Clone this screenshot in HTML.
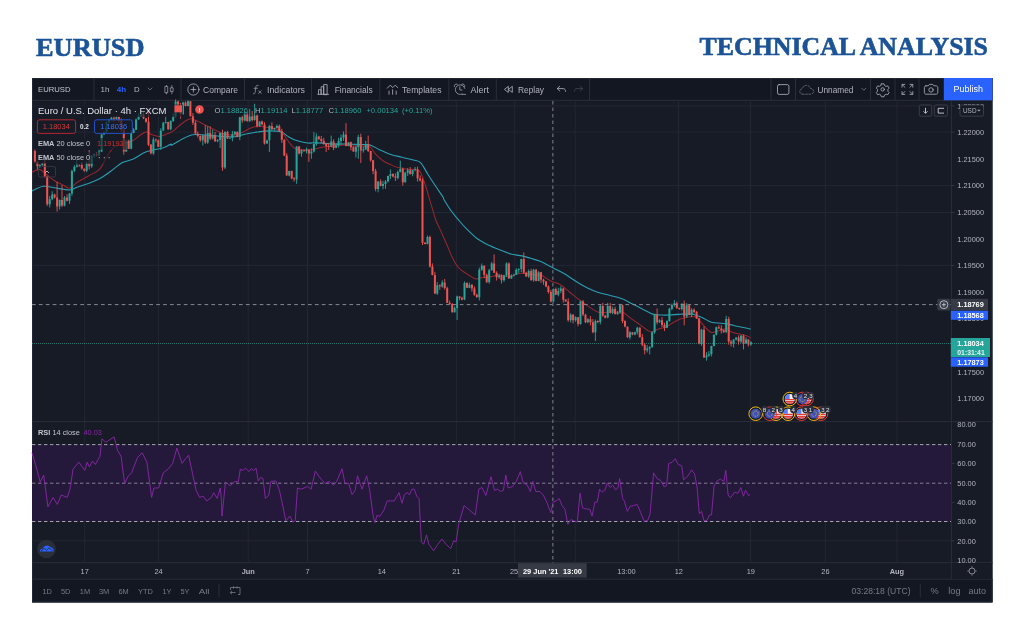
<!DOCTYPE html>
<html lang="en"><head><meta charset="utf-8"><title>EURUSD Technical Analysis</title>
<style>
html,body{margin:0;padding:0;background:#fff;}
body{width:1024px;height:640px;overflow:hidden;position:relative;}
svg{position:absolute;left:0;top:0;display:block}
text{font-family:"Liberation Sans",sans-serif;}
.ttl{font-family:"Liberation Serif",serif;font-weight:bold;font-size:26px;fill:#1b5396;stroke:#1b5396;stroke-width:.6px}
.tb{font-size:8.8px;fill:#b2b5be}
.ax{font-size:7.4px;fill:#b2b5be}
.lg{font-size:7.4px;fill:#c3c5cc}
.bt{font-size:7.4px;fill:#787b86}
</style></head><body>
<svg width="1024" height="640" viewBox="0 0 1024 640">
<!-- titles -->
<text class="ttl" x="36" y="55.5" textLength="108.5" lengthAdjust="spacingAndGlyphs">EURUSD</text>
<text class="ttl" x="699.5" y="55.2" textLength="288.5" lengthAdjust="spacingAndGlyphs">TECHNICAL ANALYSIS</text>

<!-- chart frame -->
<rect x="32" y="78" width="960.5" height="524.4" fill="#171b26"/>
<rect x="32" y="78" width="960.5" height="22" fill="#131722"/>
<rect x="32" y="579" width="960.5" height="23.4" fill="#131722"/>

<rect x="32.5" y="78.5" width="959.5" height="523.4" fill="none" stroke="#232838" stroke-width="1"/>
<!-- grid -->
<g stroke="#232734" stroke-width="1" fill="none">
<path d="M32 105.9H951M32 132.1H951M32 185.6H951M32 212.5H951M32 265.4H951M32 463.6H951M32 502.4H951M32 540.8H951"/>
<path d="M84.7 101V562M158.6 101V562M248.2 101V562M307.5 101V562M456.3 101V562M514.8 101V562M575.2 101V562M678.5 101V562M750.5 101V562M825.4 101V562M896.9 101V562"/>
</g>
<!-- borders -->
<g stroke="#2a2e39" stroke-width="1" fill="none">
<path d="M32 100.3H992.5M32 421.6H992.5M32 562.7H992.5M32 579.2H992.5M951.4 101V579"/>
<path d="M94 78V100M181 78V100M244.5 78V100M311.5 78V100M379.8 78V100M448.8 78V100M496.3 78V100M589.5 78V100M771 78V100M795.5 78V100M870.5 78V100M895 78V100M919 78V100"/>
<path d="M219 584V597M920.3 584V597"/>
</g>

<!-- RSI band -->
<rect x="32" y="444.6" width="919" height="76.9" fill="#24193b"/>
<g stroke="#b2b5be" stroke-width="0.9" stroke-dasharray="3.4 2.6" fill="none">
<path d="M32 444.6H951M32 521.5H951"/>
<path d="M32 483.2H951" stroke="#8f8a9f"/>
</g>
<polyline points="32,452.8 35.5,464.5 40.2,482.1 43.7,475.1 47.9,506.8 53.1,497.4 57.3,504.4 61.3,495 67.2,497.4 70,489.2 73,469.2 78.9,462.2 84.8,470.4 87.1,462.2 89.4,466.9 92.5,461 95.3,464.5 100,456.3 101.9,438.8 105.9,442.3 114.1,436.9 117.6,450.5 121.1,456.3 124.6,483.3 128.1,476.3 131.6,472.8 137.5,457.5 142.2,452.8 146.9,462.2 151.6,497.4 153.9,488 158.6,488 163.3,472.8 168,469.2 172.7,463.4 176.9,448.1 182.1,463.4 185.6,458.7 188.6,455.2 192.6,473.9 196.1,490.3 199.6,497.4 203.2,496.2 206.7,500.9 211.4,497.4 213.7,492.7 217.2,498.5 220.3,488 221.4,499.7 222,516.1 225.5,482.1 230.2,485.7 234.9,481.4 238.4,481.4 240.3,469.2 243.1,470.4 245.4,468.1 249,471.6 251.3,468.8 253.7,470.4 256,468.1 258.3,481 260.7,477.4 263,478.6 265.4,498.5 268.9,495 270.8,481.4 275.9,481 279.4,490.3 283,506.8 285.8,520.8 290,516.1 292.8,522 295.2,520.8 297.5,488 300.5,489.2 304.1,488 307.6,486.4 311.1,489.2 315.3,471.1 318.1,475.1 321.6,479.8 325.2,483.3 329.4,481.4 333.4,485.2 336.9,481 342,468.8 345.1,483.8 348.6,483.3 352.1,494.6 355.2,490.3 357.5,475.8 362,489.2 366.7,475.8 369.7,490.3 373.2,516.1 374.9,522.7 377.2,515 379.6,516.6 383.8,510.3 387.3,500.9 390.8,500.9 394.3,500.9 399,492.7 402.1,503.2 404.4,494.6 407.2,492.7 409.6,494.6 411.4,490.3 412,489.2 414.3,489.2 416.7,496.2 419,498.5 421.4,541.9 423.7,544.3 426.5,534.9 428.9,544.3 433.6,550.8 437.8,544.3 442,539.1 446,544.3 450.7,548.5 453.7,540.8 456.1,541.9 458.9,523.2 464.1,505.6 468.3,509.1 475.3,515 478.8,489.2 481.9,487.5 485.9,495.5 491,476.7 494.5,490.3 497.6,489.2 500.6,491.5 503.4,490.3 505.8,475.1 508.1,488 512.8,486.4 516.3,481.4 520.3,471.6 523.4,483.3 526.9,484.5 530.4,491.5 532.8,481.4 535.8,491.5 539.8,491.5 543.3,495 546.8,502.1 550.8,512.6 553.1,502.1 556.2,500.9 559.2,498.5 562.1,505.6 564.9,509.1 567.9,524.3 571,519.6 573.8,520.8 577.3,522 580.1,493.2 582.5,507.9 586.7,509.1 589.7,509.1 592.1,516.1 594.9,502.1 597.2,502.1 599.6,489.2 601.4,491.5 602,492.2 604.8,490.3 607.2,483.3 610.2,487.5 612.6,485.2 615.6,489.9 617.9,488 619.6,478.6 622.6,498.5 624.3,500.9 627.3,511.4 630.1,506.3 633.7,505.6 637.2,504.4 640.7,512.6 644.2,521.3 647.7,520.4 650.1,513.8 651.7,495 653.6,472.8 657.1,478.6 660.6,480.5 664.1,486.8 666.5,485.7 668.8,463.4 672.3,462.2 675.2,458.7 678.2,464.5 681.7,465.7 683.6,479.8 687.6,476.3 691.6,469.9 694.6,473.9 697,486.8 699.3,513.8 701.6,511.4 704,520.8 707,520.4 709.4,515 711.5,515 714.1,485.7 716.9,481 720.4,479.1 723.9,481.4 725.8,470.4 728.1,495 730.5,497.8 734.5,492.2 738,493.2 740.8,487.5 743.4,496.2 745.5,490.3 748.5,495.5 750.2,494.6" fill="none" stroke="#8a27a8" stroke-width="0.9" stroke-linejoin="round"/>

<!-- price lines -->
<path d="M32 343.5H951" stroke="#26a69a" stroke-width="0.8" stroke-dasharray="1 1" opacity=".75" fill="none"/>

<!-- EMA + candles -->
<path d="M32 191C33.8 190.2 39.7 186.8 43.3 186.3C46.9 185.8 50.3 187.2 54.5 187.8C58.7 188.4 65.9 190.1 69.5 190C73.1 189.9 74 188.3 77 187.2C80 186.2 84.7 184.8 88.3 183.5C91.9 182.1 95.9 180.7 99.5 178.8C103.1 176.8 107.2 173.8 110.8 171.3C114.4 168.7 118.4 164.8 122 162.8C125.6 160.9 129.7 160.7 133.3 159.1C136.9 157.4 141.5 153.9 144.5 152.5C147.5 151.1 149 151 152 150.3C155 149.5 160.3 148.8 163.3 147.8C166.3 146.8 169.4 144.5 170.8 144.1C172.2 143.6 170 145.9 172 145C174 144.1 180 140.1 183.3 138.5C186.6 136.8 189.6 135.3 192.6 134.7C195.6 134.1 198.7 134.6 202 134.7C205.3 134.9 209.7 135.3 213.3 135.6C216.9 135.9 220.9 136.4 224.5 136.6C228.1 136.7 232.2 137 235.8 136.6C239.4 136.1 243.4 134.5 247 133.8C250.6 133 254.7 132.3 258.3 131.9C261.9 131.4 265.9 130.9 269.5 130.9C273.1 130.9 277.8 131 280.8 131.9C283.8 132.8 285.9 135.2 288.3 136.6C290.7 137.9 293.4 139.4 295.8 140.3C298.2 141.2 300.9 141.8 303.3 142.2C305.7 142.7 309.4 143.1 310.8 143.1C312.2 143.2 310 142.8 312 142.8C314 142.8 319.7 142.9 323.3 143.1C326.9 143.4 330.3 143.9 334.5 144.1C338.7 144.2 345.3 144 349.5 144.1C353.7 144.1 357.5 144.3 360.8 144.5C364.1 144.6 367.1 144.2 370.1 145C373.1 145.9 376.2 148.2 379.5 149.7C382.8 151.2 387.2 153.2 390.8 154.4C394.4 155.6 398.4 156.3 402 157.2C405.6 158.1 410.3 159.1 413.3 160C416.3 160.9 418.4 160.4 420.8 162.8C423.2 165.2 425.3 170.4 428.3 175C431.3 179.7 437.1 188.3 439.5 191.9C442 195.5 442.6 196.2 443.3 197.5C444 198.8 443 198 444.2 200C445.4 202 448.5 207.2 450.8 210.3C453 213.5 455.9 216.8 458.3 219.7C460.7 222.5 462.8 225.1 465.8 228.1C468.8 231.1 473.4 235.8 477 238.5C480.6 241.2 484.7 243.2 488.3 245C491.9 246.8 495.9 248.3 499.5 249.7C503.1 251.1 507.2 253 510.8 254C514.4 255 518.4 255.1 522 255.9C525.6 256.7 530.3 258.2 533.3 259.1C536.3 260 539.4 261 540.8 261.5C542.2 262 540 261.1 542 262.1C544 263.2 549.7 266.3 553.3 268.1C556.9 270 560.9 271.7 564.5 273.8C568.1 275.9 572.2 279 575.8 281.3C579.4 283.5 583.4 286 587 287.8C590.6 289.6 594.7 291.3 598.3 292.5C601.9 293.7 605.6 294.3 609.5 295.3C613.4 296.4 619.1 297.7 622.7 299.1C626.3 300.4 628.7 302.1 632 303.8C635.3 305.4 640 307.8 643.3 309.4C646.6 311.1 649.7 313.2 652.7 314.1C655.7 315 659.3 314.9 662 315C664.7 315.2 666.5 315.2 669.5 315C672.6 314.9 677.2 314.2 680.8 314.1C684.4 313.9 689.9 314 692.1 314.1C694.3 314.2 692.9 314.2 694.5 314.7C696.1 315.3 699.3 316.3 702 317.5C704.7 318.7 708.4 321.3 711.4 322.2C714.4 323.1 718.1 322.9 720.8 323.2C723.5 323.5 725.9 323.6 728.3 324.1C730.7 324.5 733.4 325.4 735.8 326C738.2 326.5 740.9 327 743.3 327.5C745.7 328 749.6 328.9 750.8 329.2" fill="none" stroke="#2b9fb3" stroke-width="1.1" stroke-linejoin="round"/>
<path d="M32 172.2C33.2 171.8 37.1 169 39.5 169.4C41.9 169.9 44.6 173.2 47 175C49.4 176.8 52.1 179.2 54.5 180.7C56.9 182.2 59.6 183.2 62 184.4C64.4 185.6 67.1 188.5 69.5 188.2C71.9 187.9 74 184.5 77 182.5C80 180.6 84.7 178.1 88.3 176C91.9 173.9 96.5 172.6 99.5 169.4C102.5 166.3 104.6 159.9 107 156.3C109.4 152.7 111.8 148.8 114.5 146.9C117.2 144.9 120.9 145.1 123.9 144.1C126.9 143 130.6 141.8 133.3 140.3C136 138.8 138.7 136.1 140.8 134.7C142.9 133.4 144.6 131.9 146.4 131.9C148.2 131.9 149.9 134 152 134.7C154.1 135.5 157.1 136.7 159.5 136.6C162 136.4 165.1 134.5 167.1 133.8C169 133 169.4 133.7 172 131.9C174.6 130.1 180.3 124.6 183.3 122.5C186.3 120.4 188.4 118.9 190.8 118.8C193.2 118.6 195.9 120.5 198.3 121.6C200.7 122.6 203.4 124.1 205.8 125.3C208.2 126.5 210.9 127.9 213.3 129.1C215.7 130.3 218.4 131.9 220.8 132.8C223.2 133.7 225.9 134.4 228.3 134.7C230.7 135 233.4 135.2 235.8 134.7C238.2 134.3 240.9 132.9 243.3 131.9C245.7 130.8 248.4 129 250.8 128.1C253.2 127.2 255.9 126.4 258.3 126.3C260.7 126.1 263.4 126.9 265.8 127.2C268.2 127.5 270.9 127.5 273.3 128.1C275.7 128.7 278.4 128.8 280.8 130.9C283.2 133.1 286.2 138.6 288.3 141.3C290.4 144 292.1 146.5 293.9 147.8C295.7 149.2 297.4 149.4 299.5 149.7C301.7 150 305.1 149.7 307.1 149.7C309 149.7 309.4 150.2 312 149.7C314.6 149.3 319.7 147.5 323.3 146.9C326.9 146.3 331.2 146.3 334.5 146C337.8 145.7 340.9 145 343.9 145C346.9 145 350 145.8 353.3 146C356.6 146.1 361.8 145.8 364.5 146C367.2 146.1 368.3 145.5 370.1 146.9C371.9 148.2 373.7 152.1 375.8 154.4C377.9 156.6 380.9 159.3 383.3 161C385.7 162.6 388.4 163.7 390.8 164.7C393.2 165.8 395.3 166.8 398.3 167.5C401.3 168.3 406.2 169 409.5 169.4C412.8 169.9 416.5 168.2 418.9 170.3C421.3 172.4 422.7 177.6 424.5 182.5C426.3 187.5 428.4 195.3 430.2 201.3C432 207.3 434.3 215.8 435.8 220C437.3 224.3 437.7 224.1 439.5 228.1C441.3 232.1 444.9 240.2 447 245C449.1 249.8 450.8 254.5 452.6 258.1C454.4 261.7 456.2 265.1 458.3 267.5C460.4 269.9 463.1 271.4 465.8 273.2C468.5 275 472.8 278 475.2 278.8C477.6 279.5 478.4 278.1 480.8 277.8C483.2 277.5 487.2 277.4 490.2 276.9C493.2 276.5 496.5 275 499.5 275C502.5 275 506.2 277.1 508.9 276.9C511.6 276.8 514.3 274.7 516.4 274.1C518.5 273.5 519.9 273.2 522 273.2C524.1 273.2 527.1 273.8 529.5 274.1C532 274.4 535.1 274.8 537.1 275C539 275.3 539.7 274.6 542 275.6C544.3 276.6 548.4 279.8 551.4 281.3C554.4 282.8 557.8 283.2 560.8 285C563.8 286.8 567.1 290.1 570.1 292.5C573.1 294.9 576.5 297.8 579.5 300C582.5 302.3 585.9 304.6 588.9 306.6C591.9 308.5 595.3 311.3 598.3 312.2C601.3 313.1 604.6 312.2 607.7 312.2C610.7 312.2 614.6 312.2 617 312.2C619.4 312.2 620.6 311.3 622.7 312.2C624.8 313.1 627.5 315.9 630.2 317.8C632.9 319.8 636.8 322.5 639.5 324.4C642.2 326.4 645.1 328.8 647 330C649 331.2 649.9 332.1 651.7 331.9C653.5 331.8 656 329.8 658.3 329.1C660.5 328.3 663.4 328.3 665.8 327.2C668.2 326.2 670.9 323.9 673.3 322.5C675.7 321.2 678.4 319.7 680.8 318.8C683.2 317.9 685.9 317.2 688.3 316.9C690.7 316.6 693.9 316.2 695.8 316.9C697.7 317.6 698.5 319.5 700.1 321.3C701.7 323 704 326 705.8 327.8C707.6 329.6 709.3 332.1 711.4 332.5C713.5 333 716.5 331.3 718.9 330.7C721.3 330.1 724.3 328.5 726.4 328.8C728.5 329 729.9 331.3 732 332.2C734.1 333 737.1 333.4 739.5 334C741.9 334.6 745.2 335.3 747 335.9C748.8 336.5 750.2 337.5 750.8 337.8" fill="none" stroke="#9a262d" stroke-width="1.050" stroke-linejoin="round"/>
<path d="M39.8 164.4V167.8M42.3 162.7V165.8M49.7 196V207.4M52.2 191.2V200.2M59.6 199.4V209.5M64.5 196V206.3M69.5 192.9V203.9M71.9 169.6V195.8M74.4 165.3V172.1M76.9 160V167.5M86.7 161.3V172.3M91.7 155.3V167.8M94.1 153.2V157.8M99.1 149.2V155.9M101.6 134.2V152.1M104 131.6V134.8M106.5 121.5V132.9M109 119.4V123.2M111.4 116.8V120.4M116.4 115.9V120.3M126.2 139.7V151.7M131.2 129.8V149.4M133.6 128.2V133.3M136.1 118.5V130M138.6 113.4V119.8M141.1 113.4V116.9M153.4 137.4V154.9M160.8 128.2V150M163.3 122V130.7M165.7 116.4V123.7M170.7 120.3V130.3M173.2 113.4V122M175.6 99.4V117.3M183 101.7V115M188 100.3V106.3M202.8 134.9V145.4M207.7 126.3V143.9M212.7 129.5V139.5M217.6 139.2V142.3M220.1 132.3V148M225 131.2V169.1M229.9 137.5V138.9M232.4 130.9V141.3M234.9 130.9V135.6M239.8 116.9V140.2M244.8 111.2V121.6M249.7 108.8V122.1M254.6 103.8V120.7M259.6 121.2V127M267 139.7V143.8M269.4 124.9V152M274.4 127.7V130.3M276.9 124.5V128.3M289.2 170.7V176.4M296.6 146.2V183.8M301.5 149.2V156.7M306.5 147.6V153.4M311.4 148.3V158.8M313.9 131.9V152.5M316.4 133.3V145.6M331.2 135.6V147.2M336.1 143.1V148.2M338.6 137.7V147.4M341 134.6V144.1M343.5 131.4V140.9M348.5 141.9V146.3M355.9 145.4V157.5M358.3 134.7V158.8M363.3 146.2V152.6M365.7 140.8V150.1M378.1 181.2V192.3M383 180.8V189.2M385.5 180V188.8M388 175.6V182.5M390.4 169.4V179.1M397.8 170.6V179.4M400.3 160.6V172.4M405.2 171.8V182.6M407.7 168.1V175.9M412.6 169.9V176.3M415.1 166.9V171.2M427.5 235.6V244.4M437.3 282.1V294.9M442.3 280.3V287.7M454.6 306.4V312.5M457.1 295.6V320M464.5 281.4V300.1M469.4 282.6V288.1M479.3 267.6V300.4M481.8 263.5V270.8M489.2 268.8V283.7M491.7 261.9V270.6M499.1 273.9V278.8M504 274.7V281.8M506.5 262.4V276.9M511.4 274.4V278.7M513.9 273.7V276.4M516.3 268.3V275M518.8 268.3V273M521.3 258.8V272.2M528.7 269.4V278M533.6 268.8V281.8M538.6 271.2V281.3M553.4 288.4V302.5M558.3 287.8V296.3M560.8 286.2V293.2M570.7 313.2V322.5M575.6 316.3V321.8M580.5 300.8V324.7M587.9 318.2V323.2M595.4 319.5V341M600.3 304.5V324.4M607.7 302.8V318.4M612.6 306.8V314.3M617.6 310.9V314.9M620 303.8V313.9M629.9 331.3V339.4M634.9 331.6V335.3M637.3 326.8V334.5M647.2 345.2V352.5M649.7 346.2V354.4M652.1 331.3V347.9M654.6 314.4V333.8M659.5 319.3V322.9M667 320.3V328.1M669.4 307.8V321.7M671.9 303.6V310.3M674.4 300V306.6M681.8 303.5V310.5M686.7 303.1V318M691.6 308.3V317.2M701.5 329V345.9M706.5 352.2V360.7M708.9 351.1V356.9M711.4 345.7V356.5M713.9 334.5V346.3M716.3 326.6V335.5M726.2 315.8V333.2M733.6 339.2V347.5M736.1 337.3V340.5M741 335V343M746 337.3V343.7M750.9 341.3V345.8" stroke="#26a69a" stroke-width="0.9" fill="none"/>
<path d="M38.8 165.1h2v1.1h-2zM41.3 163h2v2.1h-2zM48.7 199.2h2v5.1h-2zM51.2 194.4h2v4.8h-2zM58.6 200.1h2v6.2h-2zM63.5 197.5h2v8.2h-2zM68.5 193.6h2v7.2h-2zM70.9 171.1h2v22.5h-2zM73.4 166.8h2v4.2h-2zM75.9 165.4h2v1.4h-2zM85.7 163.5h2v7.3h-2zM90.7 155.6h2v10.7h-2zM93.1 154.2h2v1.4h-2zM98.1 151.4h2v4.2h-2zM100.6 134.5h2v16.9h-2zM103 131.9h2v2.6h-2zM105.5 122.5h2v9.4h-2zM108 119.7h2v2.8h-2zM110.4 117.8h2v1.9h-2zM115.4 116.9h2v1.9h-2zM125.2 140.7h2v10.7h-2zM130.2 133h2v15.6h-2zM132.6 129.7h2v3.3h-2zM135.1 119.5h2v10.3h-2zM137.6 116.6h2v2.8h-2zM140.1 114.4h2v2.2h-2zM152.4 139.6h2v13.8h-2zM159.8 130.4h2v16.4h-2zM162.3 122.7h2v7.7h-2zM164.7 122.1h2v0.7h-2zM169.7 121h2v8.3h-2zM172.2 116.6h2v4.4h-2zM174.6 101.6h2v15h-2zM182 102.4h2v11.6h-2zM187 101.3h2v4.7h-2zM201.8 135.2h2v5h-2zM206.7 133h2v9.4h-2zM211.7 135.2h2v3.3h-2zM216.6 139.9h2v1.4h-2zM219.1 133h2v6.9h-2zM224 131.9h2v35.7h-2zM228.9 137.8h2v0.8h-2zM231.4 134.1h2v3.9h-2zM233.9 131.9h2v2.2h-2zM238.8 117.2h2v19.8h-2zM243.8 114.4h2v6.1h-2zM248.7 116.6h2v4.5h-2zM253.6 115.5h2v4.5h-2zM258.6 121.5h2v4.5h-2zM266 140.4h2v3.2h-2zM268.4 125.9h2v14.4h-2zM273.4 128h2v1.3h-2zM275.9 126h2v2h-2zM288.2 171h2v4.4h-2zM295.6 146.5h2v32.9h-2zM300.5 150.2h2v3.2h-2zM305.5 149.8h2v1.5h-2zM310.4 151.5h2v2h-2zM312.9 144.1h2v7.4h-2zM315.4 136.5h2v7.6h-2zM330.2 141.5h2v5h-2zM335.1 145.2h2v2.6h-2zM337.6 140.9h2v4.4h-2zM340 137.8h2v3.1h-2zM342.5 134.6h2v3.1h-2zM347.5 142.2h2v3.8h-2zM354.9 146.9h2v4.8h-2zM357.3 136.9h2v10h-2zM362.3 149.4h2v1h-2zM364.7 144h2v5.4h-2zM377.1 181.5h2v7.6h-2zM382 184h2v2h-2zM384.5 181.5h2v2.5h-2zM387 175.9h2v5.6h-2zM389.4 174h2v1.9h-2zM396.8 172.1h2v5.8h-2zM399.3 169h2v3.1h-2zM404.2 172.8h2v9.5h-2zM406.7 170.2h2v2.5h-2zM411.6 170.2h2v3.9h-2zM414.1 169.4h2v0.8h-2zM426.5 237.1h2v6.9h-2zM436.3 285.3h2v8.1h-2zM441.3 282.5h2v4.1h-2zM453.6 307.9h2v4.3h-2zM456.1 296.6h2v11.3h-2zM463.5 282.9h2v16.5h-2zM468.4 284.8h2v3h-2zM478.3 269.8h2v27.4h-2zM480.8 265.7h2v4.1h-2zM488.2 270.3h2v11.8h-2zM490.7 263.4h2v6.9h-2zM498.1 275.4h2v1.9h-2zM503 275.4h2v4.9h-2zM505.5 263.4h2v12h-2zM510.4 275.4h2v3h-2zM512.9 274.7h2v0.8h-2zM515.3 269.8h2v4.9h-2zM517.8 269h2v0.8h-2zM520.3 259.1h2v9.9h-2zM527.7 270.9h2v5.6h-2zM532.6 269.8h2v10.5h-2zM537.6 272.2h2v8.8h-2zM552.4 289.1h2v12.4h-2zM557.3 291h2v3.8h-2zM559.8 288.4h2v2.6h-2zM569.7 314.7h2v5.6h-2zM574.6 317.3h2v3h-2zM579.5 301.5h2v22.5h-2zM586.9 319.2h2v3h-2zM594.4 321h2v11.3h-2zM599.3 306h2v16.1h-2zM606.7 306h2v11.6h-2zM611.6 309h2v3.8h-2zM616.6 312.4h2v1.5h-2zM619 305.3h2v7.1h-2zM628.9 332.3h2v4.9h-2zM633.9 332.3h2v2.1h-2zM636.3 327.8h2v4.5h-2zM646.2 348.4h2v1.9h-2zM648.7 346.9h2v1.5h-2zM651.1 332.3h2v14.6h-2zM653.6 314.7h2v17.6h-2zM658.5 320.3h2v1.9h-2zM666 321h2v6.8h-2zM668.4 308.8h2v12.2h-2zM670.9 305.1h2v3.8h-2zM673.4 303.2h2v1.9h-2zM680.8 303.8h2v5.3h-2zM685.7 305.3h2v11.3h-2zM690.6 309.8h2v5.3h-2zM700.5 329.7h2v14h-2zM705.5 355.4h2v2.1h-2zM707.9 354.3h2v1.1h-2zM710.4 346h2v8.3h-2zM712.9 334.8h2v11.3h-2zM715.3 327.3h2v7.5h-2zM725.2 319h2v13.1h-2zM732.6 339.5h2v3.9h-2zM735.1 337.6h2v1.9h-2zM740 335.7h2v5.8h-2zM745 339.5h2v3.9h-2zM749.9 342.3h2v2.1h-2z" fill="#26a69a"/>
<path d="M34.9 149.6V162.6M37.4 161.3V169.5M44.8 159.8V177.4M47.2 176.1V206M54.6 193.7V198.5M57.1 182V211.6M62 185V207.1M67 194.3V201.4M79.3 164.4V166.5M81.8 161.9V169.7M84.3 168.4V171.8M89.2 150V169.5M96.6 152V156.6M113.9 116.3V122M118.8 116.2V122.8M121.3 118.4V132.2M123.8 128.5V154.7M128.7 139.7V149M143.5 112.2V119.1M146 118.1V122.7M148.5 110V146.1M150.9 144.3V154.4M155.9 138.6V142.4M158.3 139.5V147.1M168.2 121.8V130M178.1 100.6V106.7M180.6 103V118.6M185.5 101.4V106.3M190.4 101V116.5M192.9 113V124.9M195.4 120.5V134.4M197.8 131.5V137.6M200.3 135.4V141.7M205.3 125.2V143.9M210.2 126.3V140M215.1 132V142M222.5 129.8V170.8M227.5 130.9V138.9M237.3 131.2V137.3M242.3 115.7V122.8M247.2 112.2V121.8M252.2 111V121.5M257.1 114.5V127.5M262 120.5V125.4M264.5 122.2V144.5M271.9 122.4V130M279.3 124.5V132M281.8 128.8V142.9M284.3 139.1V156.1M286.7 153.2V175.7M291.7 170.7V179.2M294.1 177V181.6M299.1 146.2V154.5M304 149.6V151.6M308.9 149.1V161.9M318.8 135.8V140.1M321.3 135.9V143.2M323.8 137.8V144.8M326.2 143.8V151.9M328.7 142.8V150M333.6 139.3V150.1M346 123.1V146.3M350.9 141.6V150.4M353.4 146.2V151.9M360.8 133.7V163M368.2 135.6V152M370.7 150.7V161.7M373.1 159.9V174.2M375.6 168.8V191.3M380.6 179.3V186.3M392.9 173.3V177.3M395.4 173.4V181.1M402.8 167.5V185.6M410.2 167.1V174.8M417.6 166.6V181.7M420.1 175.3V181.4M422.5 178.2V245M425 242.1V244.4M429.9 235.6V267.6M432.4 263.4V275.3M434.9 271.8V294.1M439.8 284.3V289.9M444.7 279V289.7M447.2 286.7V303.1M449.7 300.6V304.8M452.2 303.1V312.5M459.6 296.3V300.3M462 296.6V300.4M467 282.2V288.1M471.9 284.1V291.7M474.4 286.3V295.7M476.8 293.7V297.9M484.2 265.4V277.9M486.7 273.7V282.9M494.1 254.4V273.1M496.6 271.3V280.5M501.5 274.4V283.5M508.9 262.4V278.7M523.8 252.5V273.8M526.2 271.8V276.8M531.2 268.7V280.6M536.1 268.8V281.3M541 271.9V282.9M543.5 278.7V284.8M546 280.9V287.2M548.4 285.5V293.6M550.9 289.9V302.5M555.8 287.6V295.1M563.3 287.7V302.8M565.7 299.3V301.8M568.2 298.3V321.8M573.1 314V323.5M578.1 317V326.2M583 300V316.2M585.5 313.7V323.2M590.4 316V325.4M592.9 319V333.3M597.8 320.3V323.2M602.8 302.8V316.9M605.2 315.1V318.4M610.2 302.8V313.5M615.1 306.8V314.6M622.5 304.6V323.2M625 320.3V327.4M627.5 326.4V337.9M632.4 332V335.3M639.8 327.1V337.5M642.3 334V346.2M644.7 343.2V354.4M657.1 308.4V324.4M662 317.1V327.2M664.5 322.8V331M676.8 301.7V308.9M679.3 307.6V309.7M684.2 300.6V325.3M689.2 305V315.3M694.1 308.3V313.3M696.6 311.1V318.7M699.1 317.7V344.4M704 326.5V357.8M718.8 325.1V328.7M721.3 325.2V333.5M723.7 329.3V332.9M728.7 316.8V344.7M731.1 340V346.6M738.6 335.4V344.7M743.5 334.7V349.4M748.4 339.2V346.5" stroke="#ef5350" stroke-width="0.9" fill="none"/>
<path d="M33.9 151.1h2v10.5h-2zM36.4 161.6h2v4.6h-2zM43.8 163h2v13.4h-2zM46.2 176.4h2v27.8h-2zM53.6 194.4h2v3.1h-2zM56.1 197.5h2v8.9h-2zM61 200.1h2v5.5h-2zM66 197.5h2v3.2h-2zM78.3 165.4h2v0.8h-2zM80.8 165.1h2v3.5h-2zM83.3 168.7h2v2.1h-2zM88.2 163.5h2v2.8h-2zM95.6 154.2h2v1.4h-2zM112.9 117.8h2v0.9h-2zM117.8 116.9h2v3.8h-2zM120.3 120.6h2v9.4h-2zM122.8 130h2v21.4h-2zM127.7 140.7h2v8h-2zM142.5 114.4h2v3.9h-2zM145 118.4h2v3.3h-2zM147.5 121.7h2v23h-2zM149.9 144.6h2v8.7h-2zM154.9 139.6h2v0.7h-2zM157.3 140.2h2v6.6h-2zM167.2 122.1h2v7.2h-2zM177.1 101.6h2v3.6h-2zM179.6 105.2h2v8.7h-2zM184.5 102.4h2v3.6h-2zM189.4 101.3h2v14.9h-2zM191.9 116.2h2v6.6h-2zM194.4 122.7h2v10.9h-2zM196.8 133.7h2v2.4h-2zM199.3 136.1h2v4.2h-2zM204.3 135.2h2v7.2h-2zM209.2 133h2v5.5h-2zM214.1 135.2h2v6.1h-2zM221.5 133h2v34.6h-2zM226.5 131.9h2v6.7h-2zM236.3 131.9h2v5h-2zM241.3 117.2h2v3.4h-2zM246.2 114.4h2v6.7h-2zM251.2 116.6h2v3.4h-2zM256.1 115.5h2v10.5h-2zM261 121.5h2v2.8h-2zM263.5 124.4h2v19.1h-2zM270.9 125.9h2v3.4h-2zM278.3 126h2v5h-2zM280.8 131h2v8.8h-2zM283.3 139.8h2v15.6h-2zM285.7 155.4h2v20h-2zM290.7 171h2v7.5h-2zM293.1 178.5h2v0.9h-2zM298.1 146.5h2v7h-2zM303 150.2h2v1h-2zM307.9 149.8h2v3.8h-2zM317.8 136.5h2v2.6h-2zM320.3 139.1h2v1.9h-2zM322.8 141h2v3.1h-2zM325.2 144.1h2v1.9h-2zM327.7 146h2v0.8h-2zM332.6 141.5h2v6.4h-2zM345 134.6h2v11.4h-2zM349.9 142.2h2v5h-2zM352.4 147.2h2v4.4h-2zM359.8 136.9h2v13.5h-2zM367.2 144h2v7h-2zM369.7 151h2v9.2h-2zM372.1 160.2h2v10.8h-2zM374.6 171h2v18.1h-2zM379.6 181.5h2v4.5h-2zM391.9 174h2v2.6h-2zM394.4 176.6h2v1.2h-2zM401.8 169h2v13.2h-2zM409.2 170.2h2v3.9h-2zM416.6 169.8h2v8.8h-2zM419.1 178.5h2v1.9h-2zM421.5 180.4h2v62.4h-2zM424 242.8h2v1.3h-2zM428.9 237.1h2v29.4h-2zM431.4 266.6h2v8.4h-2zM433.9 275h2v18.4h-2zM438.8 285.3h2v1.3h-2zM443.7 282.5h2v5.6h-2zM446.2 288.2h2v14.6h-2zM448.7 302.8h2v1.3h-2zM451.2 304.1h2v8.1h-2zM458.6 296.6h2v1.5h-2zM461 298.1h2v1.3h-2zM466 282.9h2v4.9h-2zM470.9 284.8h2v3.8h-2zM473.4 288.5h2v6.2h-2zM475.8 294.7h2v2.4h-2zM483.2 265.7h2v9h-2zM485.7 274.7h2v7.5h-2zM493.1 263.4h2v9.4h-2zM495.6 272.8h2v4.5h-2zM500.5 275.4h2v4.9h-2zM507.9 263.4h2v15h-2zM522.8 259.1h2v13.7h-2zM525.2 272.8h2v3.8h-2zM530.2 270.9h2v9.4h-2zM535.1 269.8h2v11.3h-2zM540 272.2h2v7.5h-2zM542.5 279.7h2v1.9h-2zM545 281.6h2v4.9h-2zM547.4 286.5h2v5.6h-2zM549.9 292.1h2v9.4h-2zM554.8 289.1h2v5.6h-2zM562.3 288.4h2v11.3h-2zM564.7 299.6h2v1.9h-2zM567.2 301.5h2v18.8h-2zM572.1 314.7h2v5.6h-2zM577.1 317.3h2v6.8h-2zM582 301.5h2v13.1h-2zM584.5 314.7h2v7.5h-2zM589.4 319.2h2v3h-2zM591.9 322.2h2v10.1h-2zM596.8 321h2v1.1h-2zM601.8 306h2v9.4h-2zM604.2 315.4h2v2.3h-2zM609.2 306h2v6.8h-2zM614.1 309h2v4.9h-2zM621.5 305.3h2v15.8h-2zM624 321h2v5.6h-2zM626.5 326.7h2v10.5h-2zM631.4 332.3h2v2.1h-2zM638.8 327.8h2v9.4h-2zM641.3 337.2h2v7.5h-2zM643.7 344.7h2v5.6h-2zM656.1 314.7h2v7.5h-2zM661 320.3h2v4.7h-2zM663.5 325h2v2.8h-2zM675.8 303.2h2v4.7h-2zM678.3 307.9h2v1.1h-2zM683.2 303.8h2v12.8h-2zM688.2 305.3h2v9.8h-2zM693.1 309.8h2v2.1h-2zM695.6 311.8h2v6.6h-2zM698.1 318.4h2v25.3h-2zM703 329.7h2v27.8h-2zM717.8 327.3h2v1.1h-2zM720.3 328.4h2v1.9h-2zM722.7 330.3h2v1.9h-2zM727.7 319h2v22.5h-2zM730.1 341.5h2v1.9h-2zM737.6 337.6h2v3.9h-2zM742.5 335.7h2v7.7h-2zM747.4 339.5h2v4.9h-2z" fill="#ef5350"/>

<!-- crosshair -->
<g fill="none">
<path d="M32 304.6H951" stroke="#868993" stroke-width="1" stroke-dasharray="3.7 3.2"/>
<path d="M552.8 101V563" stroke="#62656f" stroke-width="1.4" stroke-dasharray="3.4 3.1"/>
</g>

<!-- toolbar text -->
<g class="tb">
<text x="38" y="92.2" fill="#c5c8d0" font-size="7.800" textLength="32.5" lengthAdjust="spacingAndGlyphs">EURUSD</text>
<text x="100.5" y="92.3" font-size="8">1h</text>
<text x="116.800" y="92.3" font-size="8" fill="#2962ff" font-weight="bold">4h</text>
<text x="134" y="92.3" font-size="7.800">D</text>
<text x="203" y="92.7" textLength="35" lengthAdjust="spacingAndGlyphs">Compare</text>
<text x="267" y="92.7" textLength="38" lengthAdjust="spacingAndGlyphs">Indicators</text>
<text x="334.7" y="92.7" textLength="38" lengthAdjust="spacingAndGlyphs">Financials</text>
<text x="402" y="92.7" textLength="39.5" lengthAdjust="spacingAndGlyphs">Templates</text>
<text x="470.5" y="92.7" textLength="18.5" lengthAdjust="spacingAndGlyphs">Alert</text>
<text x="518" y="92.7" textLength="26" lengthAdjust="spacingAndGlyphs">Replay</text>
<text x="817.5" y="92.7" textLength="36" lengthAdjust="spacingAndGlyphs">Unnamed</text>
</g>
<!-- toolbar icons -->
<g stroke="#b2b5be" stroke-width="0.8" fill="none" stroke-linecap="round" stroke-linejoin="round">
<path d="M148 88l2 2l2-2" stroke="#787b86"/>
<path d="M165.3 86.4h2.4v6.4h-2.4zM166.5 85.4v1M166.5 92.8v1M170.7 87.8h2.4v3.6h-2.4zM171.9 85.6v2.2M171.9 91.4v2.4" stroke="#9598a1"/>
<circle cx="193.4" cy="89.5" r="5.6"/><path d="M190.9 89.5h5M193.4 87v5"/>
<path d="M258.3 85.4c-1.5-.5-2.2.2-2.4 1.5l-.8 5.6c-.2 1.1-.8 1.6-1.8 1.3M254 88.3h3.4M258.6 90.8l2.6 2.6M261.2 90.8l-2.6 2.6" stroke="#9598a1"/>
<path d="M318.5 94.3v-4.6h2.6v4.6M321.1 94.3v-7.6h2.6v7.6M323.7 94.3V84.6h3.4v9.7zM317.8 94.3h10.8"/>
<path d="M387.2 88.2l3-3 2.6 2.4 2.4-2.4 2.6 2.4M389 94.3v-3.2M392.6 94.3v-4.6M396.2 94.3v-3.2"/>
<path d="M462.200 94a4.800 4.800 0 1 1 2.600-5.600M454.300 86.600a2.200 2.200 0 0 1 3-2.400M461.800 84.200a2.200 2.200 0 0 1 3 2.400M459.800 86.800v3.200h2.200M462 94.400h3.600" stroke="#9ea1aa"/>
<path d="M508 86.6l-3.6 2.8 3.6 2.8zM512 86.6l-3.6 2.8 3.6 2.8z"/>
<path d="M559.8 86.2l-2.6 2.4 2.6 2.4M557.4 88.6h5.6c1.8 0 2.6 1.2 2.6 2.8"/>
<path d="M580.2 86.2l2.6 2.4-2.6 2.4M582.6 88.6H577c-1.8 0-2.6 1.2-2.6 2.8" stroke="#434651"/>
<rect x="777.5" y="84.6" width="11.4" height="9.8" rx="1.6"/>
<path d="M803 94.2c-2.2 0-3.2-1.4-3.2-2.8 0-1.6 1.2-2.6 2.6-2.6.4-2.2 2-3.4 4-3.4 2 0 3.6 1.2 4 3 1.8.1 3.2 1.2 3.2 2.9 0 1.7-1.3 2.9-3.2 2.9z" stroke-dasharray="1.7 1.5" stroke="#70737e"/>
<path d="M861.8 88.3l2 2l2-2" stroke="#787b86"/>
<circle cx="882.7" cy="89.4" r="1.7"/>
<path d="M881.4 83.8h2.6l.5 1.7 1.6.9 1.7-.5 1.3 2.2-1.2 1.3v1.8l1.2 1.3-1.3 2.2-1.7-.5-1.6.9-.5 1.7h-2.6l-.5-1.7-1.6-.9-1.7.5-1.3-2.2 1.2-1.3v-1.8l-1.2-1.3 1.3-2.2 1.7.5 1.6-.9z"/>
<path d="M902 87.2v-2.8h2.8M902.3 84.7l2.6 2.6M912.8 87.2v-2.8H910M912.5 84.7l-2.6 2.6M902 91.6v2.8h2.8M902.3 94.1l2.6-2.6M912.8 91.6v2.8H910M912.5 94.1l-2.6-2.6"/>
<path d="M926 85.8h2.4l1-1.4h3.4l1 1.4h2.4c.9 0 1.6.7 1.6 1.6v5.2c0 .9-.7 1.6-1.6 1.6H926c-.9 0-1.6-.7-1.6-1.6v-5.2c0-.9.7-1.6 1.6-1.6z"/><circle cx="931" cy="89.9" r="2.2"/>
</g>
<rect x="943.8" y="78" width="48.7" height="22.3" fill="#2962ff"/>
<text x="953.5" y="92.3" font-size="8.3" fill="#fff" textLength="29.5" lengthAdjust="spacingAndGlyphs">Publish</text>

<!-- legend -->
<g fill="#171b26" fill-opacity=".62">
<rect x="36" y="104.500" width="147" height="12.500"/>
<rect x="36" y="138.200" width="91" height="11.600"/>
<rect x="36" y="152.200" width="76" height="11.600"/>
</g>

<text x="38" y="113.8" font-size="8.8" fill="#e4e6ec" textLength="128.5" lengthAdjust="spacingAndGlyphs">Euro / U.S. Dollar · 4h · FXCM</text>
<rect x="174.5" y="105.3" width="7.5" height="7" fill="#ef5350"/>
<circle cx="199.5" cy="109.5" r="4.3" fill="#ef5350"/>
<text x="198.4" y="111.8" font-size="6" fill="#fff" font-weight="bold">!</text>
<g font-size="7.6">
<text y="113"><tspan x="214.5" fill="#b2b5be">O</tspan><tspan fill="#26a69a" textLength="27.5">1.18826</tspan><tspan x="255" fill="#b2b5be">H</tspan><tspan fill="#26a69a">1.19114</tspan><tspan x="291.5" fill="#b2b5be">L</tspan><tspan fill="#26a69a">1.18777</tspan><tspan x="328.5" fill="#b2b5be">C</tspan><tspan fill="#26a69a">1.18960</tspan><tspan x="366.4" fill="#26a69a">+0.00134</tspan><tspan x="402" fill="#26a69a">(+0.11%)</tspan></text>
</g>
<rect x="37.4" y="119.8" width="38.2" height="13.6" rx="2" fill="#171b26" fill-opacity=".7" stroke="#b22833" stroke-width="1"/>
<text x="42.8" y="129.3" font-size="7.3" fill="#d83a3a" textLength="27" lengthAdjust="spacingAndGlyphs">1.18034</text>
<text x="80" y="129" font-size="6.4" fill="#e0e3eb" font-weight="bold">0.2</text>
<rect x="94.5" y="119.8" width="37.8" height="13.6" rx="2" fill="#171b26" fill-opacity=".7" stroke="#2452c9" stroke-width="1"/>
<text x="100.2" y="129.3" font-size="7.3" fill="#3b72ff" textLength="27" lengthAdjust="spacingAndGlyphs">1.18036</text>
<text class="lg" x="38" y="146.2"><tspan font-weight="bold">EMA</tspan> 20 close 0</text>
<text x="97" y="146.2" font-size="7.4" fill="#c62f2f">1.19193</text>
<text class="lg" x="38" y="160.2"><tspan font-weight="bold">EMA</tspan> 50 close 0</text>
<text x="97.600" y="161.400" font-size="11" fill="#9598a1" letter-spacing="1.200">···</text>
<rect x="38.5" y="166.6" width="17" height="10.4" rx="1.5" fill="none" stroke="#3a3e4a" stroke-width=".8"/>
<path d="M45 173l2-2 2 2" stroke="#b2b5be" stroke-width=".9" fill="none"/>

<!-- top-right buttons -->
<g fill="#171b26" stroke="#434651" stroke-width=".8">
<rect x="919.3" y="105" width="12.4" height="11.2" rx="1.5"/>
<rect x="934.3" y="105" width="13.2" height="11.2" rx="1.5"/>
</g>
<path d="M925.5 107.8v5.4M923.5 111.3l2 2 2-2M944 108.3h-5.8v4.8H944" stroke="#d1d4dc" stroke-width=".9" fill="none"/>

<!-- price axis labels -->
<g class="ax">
<text x="957.3" y="108.6">1.22500</text>
<text x="957.3" y="135.2">1.22000</text>
<text x="957.3" y="161.8">1.21500</text>
<text x="957.3" y="188.4">1.21000</text>
<text x="957.3" y="215">1.20500</text>
<text x="957.3" y="241.6">1.20000</text>
<text x="957.3" y="268.2">1.19500</text>
<text x="957.3" y="294.8">1.19000</text>
<text x="957.3" y="321.4">1.18500</text>
<text x="957.3" y="374.6">1.17500</text>
<text x="957.3" y="401.2">1.17000</text>
<text x="957.3" y="427.2">80.00</text>
<text x="957.3" y="446.8">70.00</text>
<text x="957.3" y="466.2">60.00</text>
<text x="957.3" y="485.6">50.00</text>
<text x="957.3" y="504.8">40.00</text>
<text x="957.3" y="524.4">30.00</text>
<text x="957.3" y="543.6">20.00</text>
<text x="957.3" y="563">10.00</text>
</g>
<rect x="951.9" y="563.2" width="40" height="15.500" fill="#171b26"/>
<g stroke="#3a3e4a" stroke-width=".8"><path d="M951.4 105.9h3M951.4 132.1h3M951.4 185.6h3M951.4 212.5h3M951.4 265.4h3M951.4 463.6h3M951.4 502.4h3M951.4 540.8h3"/><path d="M951.4 304.600h3M951.400 343.500h3" stroke="#d1d4dc"/></g>
<rect x="960" y="105" width="23.5" height="11.2" rx="1.5" fill="#171b26" stroke="#434651" stroke-width=".8"/>
<text x="963" y="113.2" font-size="6.4" fill="#b2b5be">USD</text>
<path d="M977.3 109.8l1.6 1.8 1.6-1.8z" fill="#b2b5be"/>

<!-- price labels -->
<rect x="937.3" y="298.8" width="13.2" height="11.8" rx="1.5" fill="#363a45"/>
<circle cx="943.9" cy="304.7" r="4" fill="none" stroke="#d1d4dc" stroke-width=".8"/>
<path d="M941.9 304.7h4M943.9 302.7v4" stroke="#d1d4dc" stroke-width=".8"/>
<rect x="951" y="298.8" width="37" height="11.8" fill="#363a45"/>
<text x="957.3" y="307.300" font-size="7.4" fill="#fff" font-weight="bold" textLength="26.4" lengthAdjust="spacingAndGlyphs">1.18769</text>
<rect x="950.8" y="310.8" width="37.2" height="9" fill="#2962ff"/>
<text x="957.3" y="318.2" font-size="7.4" fill="#fff" font-weight="bold" textLength="26.4" lengthAdjust="spacingAndGlyphs">1.18568</text>
<rect x="950.8" y="338" width="39.2" height="19" fill="#26a69a"/>
<text x="957.3" y="346.4" font-size="7.4" fill="#fff" font-weight="bold" textLength="26.4" lengthAdjust="spacingAndGlyphs">1.18034</text>
<text x="957.3" y="354.8" font-size="7.2" fill="#e4f5f3" font-weight="bold" textLength="27.4" lengthAdjust="spacingAndGlyphs">01:31:41</text>
<rect x="950.8" y="357.3" width="37.2" height="9.4" fill="#2962ff"/>
<text x="957.3" y="364.8" font-size="7.4" fill="#fff" font-weight="bold" textLength="26.4" lengthAdjust="spacingAndGlyphs">1.17873</text>

<!-- RSI legend -->
<text class="lg" x="38" y="434.6"><tspan font-weight="bold">RSI</tspan> 14 close <tspan fill="#8a27a8" dx="1.5">40.03</tspan></text>
<circle cx="46.5" cy="549" r="9.3" fill="#2a2e39"/>
<path d="M39.8 551.4c.2-1.8 1.6-3 3.2-3 .6-1.8 2.2-3 4-3 1.4 0 2.7.7 3.4 1.9 1.8.2 3.2 1.6 3.2 3.4 0 .3 0 .5-.1.7z" fill="#2962ff"/>
<path d="M41 551l3.4-2.6 2.2 1.8 2.4-2.4 3.6 3.2" stroke="#2a2e39" stroke-width=".9" fill="none"/>

<!-- time axis -->
<g class="ax" text-anchor="middle">
<text x="84.7" y="573.8">17</text>
<text x="158.6" y="573.8">24</text>
<text x="248.2" y="573.8" font-weight="bold">Jun</text>
<text x="307.5" y="573.8">7</text>
<text x="381.8" y="573.8">14</text>
<text x="456.3" y="573.8">21</text>
<text x="514" y="573.8">25</text>
<text x="626.4" y="573.8">13:00</text>
<text x="678.8" y="573.8">12</text>
<text x="750.8" y="573.8">19</text>
<text x="825.4" y="573.8">26</text>
<text x="896.9" y="573.8" font-weight="bold">Aug</text>
</g>
<rect x="518" y="563.2" width="68.7" height="14.4" fill="#363a45"/>
<text x="523" y="573.8" font-size="7.4" fill="#fff" font-weight="bold">29 Jun '21</text>
<text x="563" y="573.8" font-size="7.4" fill="#fff" font-weight="bold">13:00</text>
<g stroke="#b2b5be" stroke-width=".7" fill="none"><circle cx="972" cy="571" r="3"/><path d="M972 566.4v1.2M972 574.4v1.2M967.4 571h1.2M975.4 571h1.2" stroke-dasharray="none"/></g>

<!-- bottom toolbar -->
<g class="bt">
<text x="42.5" y="593.5">1D</text>
<text x="61" y="593.5">5D</text>
<text x="79.8" y="593.5">1M</text>
<text x="99" y="593.5">3M</text>
<text x="118.5" y="593.5">6M</text>
<text x="138" y="593.5">YTD</text>
<text x="162.5" y="593.5">1Y</text>
<text x="180.5" y="593.5">5Y</text>
<text x="198.700" y="593.5" textLength="10.800" lengthAdjust="spacingAndGlyphs">All</text>
<text x="851.5" y="594" font-size="8.8" textLength="59" lengthAdjust="spacingAndGlyphs">03:28:18 (UTC)</text>
<text x="930.5" y="594" font-size="9.2">%</text>
<text x="948.2" y="594" font-size="9.2" textLength="12.4" lengthAdjust="spacingAndGlyphs">log</text>
<text x="968.6" y="594" font-size="9.2" textLength="17.4" lengthAdjust="spacingAndGlyphs">auto</text>
</g>
<path d="M230.5 587.5h9.5v7h-2M230.5 587.5v2.5M233.5 586.2v2.4M237 586.2v2.4M235.5 592.5h-5.2M232 590.8l-1.8 1.7 1.8 1.7" stroke="#787b86" stroke-width=".8" fill="none"/>

<!-- event flags -->
<g id="flags">
<g><circle cx="821" cy="413.7" r="5" fill="#f1f1f4"/><path d="M816.3 414.3h9.4M816.8 416.3h8.4M818 417.9h6" stroke="#e53935" stroke-width="1.2"/><path d="M816.2 413.7a5 5 0 0 1 4.6-4.9v4.9z" fill="#5c7cfa"/><circle cx="821" cy="413.7" r="6.8" fill="none" stroke="#e53935" stroke-width="1"/></g>
<g><circle cx="813.8" cy="413.7" r="5" fill="#3f51b5"/><circle cx="813.8" cy="413.7" r="2.6" fill="none" stroke="#e8b923" stroke-width=".9" stroke-dasharray=".9 .9"/><circle cx="813.8" cy="413.7" r="6.8" fill="none" stroke="#f0b90b" stroke-width="1"/></g>
<g><circle cx="776" cy="413.7" r="5" fill="#f1f1f4"/><path d="M771.3 414.3h9.4M771.8 416.3h8.4M773 417.9h6" stroke="#e53935" stroke-width="1.2"/><path d="M771.2 413.7a5 5 0 0 1 4.6-4.9v4.9z" fill="#5c7cfa"/><circle cx="776" cy="413.7" r="6.8" fill="none" stroke="#f0b90b" stroke-width="1"/></g>
<g><circle cx="769.8" cy="413.7" r="5" fill="#3f51b5"/><circle cx="769.8" cy="413.7" r="2.6" fill="none" stroke="#e8b923" stroke-width=".9" stroke-dasharray=".9 .9"/><circle cx="769.8" cy="413.7" r="6.8" fill="none" stroke="#e53935" stroke-width="1"/></g>
<g><circle cx="801.5" cy="413.7" r="5" fill="#f1f1f4"/><path d="M796.8 414.3h9.4M797.3 416.3h8.4M798.5 417.9h6" stroke="#e53935" stroke-width="1.2"/><path d="M796.7 413.7a5 5 0 0 1 4.6-4.9v4.9z" fill="#5c7cfa"/><circle cx="801.5" cy="413.7" r="6.8" fill="none" stroke="#e53935" stroke-width="1"/></g>
<g><circle cx="788" cy="413.7" r="5" fill="#f1f1f4"/><path d="M783.3 414.3h9.4M783.8 416.3h8.4M785 417.9h6" stroke="#e53935" stroke-width="1.2"/><path d="M783.2 413.7a5 5 0 0 1 4.6-4.9v4.9z" fill="#5c7cfa"/><circle cx="788" cy="413.7" r="6.8" fill="none" stroke="#f0b90b" stroke-width="1"/></g>
<g><circle cx="755.7" cy="413.7" r="5" fill="#3f51b5"/><circle cx="755.7" cy="413.7" r="2.6" fill="none" stroke="#e8b923" stroke-width=".9" stroke-dasharray=".9 .9"/><circle cx="755.7" cy="413.7" r="6.8" fill="none" stroke="#f0b90b" stroke-width="1"/></g>
<g><circle cx="806.5" cy="399" r="5" fill="#f1f1f4"/><path d="M801.8 399.6h9.4M802.3 401.6h8.4M803.5 403.2h6" stroke="#e53935" stroke-width="1.2"/><path d="M801.7 399a5 5 0 0 1 4.6-4.9v4.9z" fill="#5c7cfa"/><circle cx="806.5" cy="399" r="6.8" fill="none" stroke="#e53935" stroke-width="1"/></g>
<g><circle cx="802.5" cy="399" r="5" fill="#3f51b5"/><circle cx="802.5" cy="399" r="2.6" fill="none" stroke="#e8b923" stroke-width=".9" stroke-dasharray=".9 .9"/><circle cx="802.5" cy="399" r="6.8" fill="none" stroke="#e53935" stroke-width="1"/></g>
<g><circle cx="789.8" cy="399" r="5" fill="#f1f1f4"/><path d="M785.0999999999999 399.6h9.4M785.5999999999999 401.6h8.4M786.8 403.2h6" stroke="#e53935" stroke-width="1.2"/><path d="M785 399a5 5 0 0 1 4.6-4.9v4.9z" fill="#5c7cfa"/><circle cx="789.8" cy="399" r="6.8" fill="none" stroke="#f0b90b" stroke-width="1"/></g>
<rect x="761.25" y="405.8" width="6.5" height="7.6" rx="3.8" fill="#2a2e39"/><text x="764.5" y="411.8" font-size="6.2" fill="#e0e3eb" text-anchor="middle">8</text>
<rect x="770.05" y="405.8" width="6.5" height="7.6" rx="3.8" fill="#2a2e39"/><text x="773.3" y="411.8" font-size="6.2" fill="#e0e3eb" text-anchor="middle">2</text>
<rect x="777.75" y="405.8" width="6.5" height="7.6" rx="3.8" fill="#2a2e39"/><text x="781" y="411.8" font-size="6.2" fill="#e0e3eb" text-anchor="middle">3</text>
<rect x="790.05" y="405.8" width="6.5" height="7.6" rx="3.8" fill="#2a2e39"/><text x="793.3" y="411.8" font-size="6.2" fill="#e0e3eb" text-anchor="middle">4</text>
<rect x="802.25" y="405.8" width="6.5" height="7.6" rx="3.8" fill="#2a2e39"/><text x="805.5" y="411.8" font-size="6.2" fill="#e0e3eb" text-anchor="middle">3</text>
<rect x="807.25" y="405.8" width="6.5" height="7.6" rx="3.8" fill="#2a2e39"/><text x="810.5" y="411.8" font-size="6.2" fill="#e0e3eb" text-anchor="middle">1</text>
<rect x="819.75" y="405.8" width="6.5" height="7.6" rx="3.8" fill="#2a2e39"/><text x="823" y="411.8" font-size="6.2" fill="#e0e3eb" text-anchor="middle">3</text>
<rect x="824.55" y="405.8" width="6.5" height="7.6" rx="3.8" fill="#2a2e39"/><text x="827.8" y="411.8" font-size="6.2" fill="#e0e3eb" text-anchor="middle">2</text>
<rect x="792.25" y="391.8" width="6.5" height="7.6" rx="3.8" fill="#2a2e39"/><text x="795.5" y="397.8" font-size="6.2" fill="#e0e3eb" text-anchor="middle">4</text>
<rect x="802.25" y="391.8" width="6.5" height="7.6" rx="3.8" fill="#2a2e39"/><text x="805.5" y="397.8" font-size="6.2" fill="#e0e3eb" text-anchor="middle">2</text>
<rect x="807.75" y="391.8" width="6.5" height="7.6" rx="3.8" fill="#2a2e39"/><text x="811" y="397.8" font-size="6.2" fill="#e0e3eb" text-anchor="middle">3</text>
</g>
</svg>
</body></html>
